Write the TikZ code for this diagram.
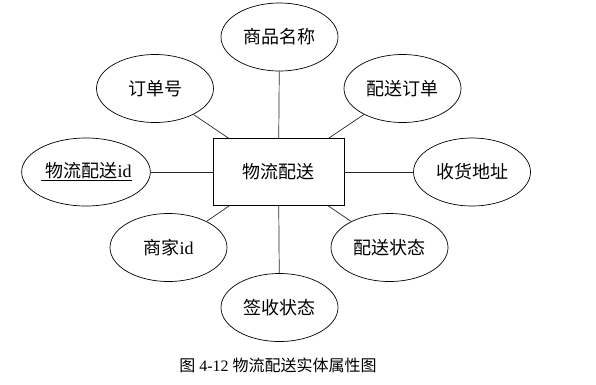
\documentclass[tikz,border=0pt]{standalone}
\usepackage{fontspec}
\setmainfont{Liberation Serif}
\newfontfamily\cjk{Noto Sans CJK SC}
\usetikzlibrary{shapes.geometric}
\tikzset{
 every node/.style={font=\fontsize{18}{20}\selectfont,text=black},
 entity/.style={draw,line width=.7pt,minimum width=131pt,minimum height=67pt,inner sep=0pt},
 attr/.style={ellipse,draw,line width=.7pt,minimum width=117pt,minimum height=68pt,inner sep=0pt},
 link/.style={line width=.7pt,draw=black!85},
 figcaption/.style={font=\fontsize{16}{18}\selectfont},
 }
\begin{document}
\begin{tikzpicture}[x=1pt,y=-1pt]
 \useasboundingbox (0,0) rectangle (596,384);
 \node[entity] (ent) at (278.5,172) {\cjk 物流配送};
 \foreach \nm/\px/\py/\txt in {
 spmc/279.5/37/{\cjk 商品名称},
 ddh/155/88.5/{\cjk 订单号},
 psdd/402.5/88.5/{\cjk 配送订单},
 wlid/86/172/{\underline{\hspace{5pt}{\cjk 物流配送}id}},
 shdz/472/172/{\cjk 收货地址},
 sjid/168.5/247.5/{{\cjk 商家}id},
 pszt/389.5/247.5/{\cjk 配送状态},
 qszt/279.5/307.5/{\cjk 签收状态}}{
 \node[attr] (\nm) at (\px,\py) {\txt};
 \draw[link] (ent) -- (\nm);}
 \node[figcaption] (title) at (278,365) {{\cjk 图} 4-12 {\cjk 物流配送实体属性图}};
\end{tikzpicture}
\end{document}
